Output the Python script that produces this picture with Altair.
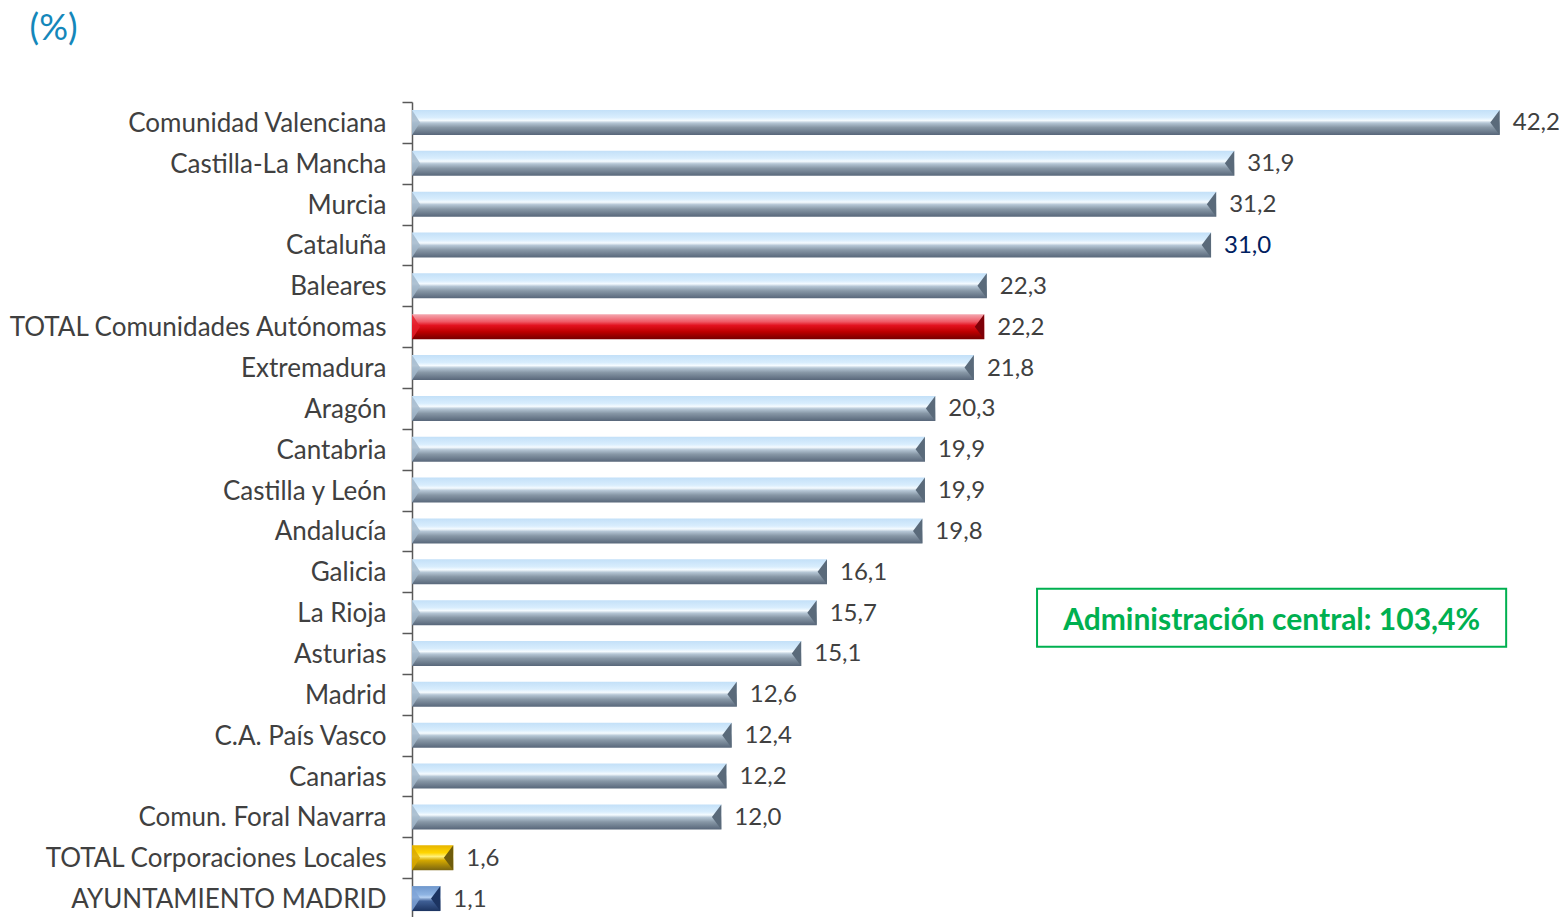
import altair as alt
import pandas as pd

regions = [
    "Comunidad Valenciana", "Castilla-La Mancha", "Murcia", "Cataluña", "Baleares",
    "TOTAL Comunidades Autónomas", "Extremadura", "Aragón", "Cantabria", "Castilla y León",
    "Andalucía", "Galicia", "La Rioja", "Asturias", "Madrid", "C.A. País Vasco",
    "Canarias", "Comun. Foral Navarra", "TOTAL Corporaciones Locales", "AYUNTAMIENTO MADRID",
]
values = [42.2, 31.9, 31.2, 31.0, 22.3, 22.2, 21.8, 20.3, 19.9, 19.9,
          19.8, 16.1, 15.7, 15.1, 12.6, 12.4, 12.2, 12.0, 1.6, 1.1]
groups = ["ccaa"] * 5 + ["total"] + ["ccaa"] * 12 + ["cl", "ayto"]
labels = [f"{v:.1f}".replace(".", ",") for v in values]

note_text = "Administración central: 103,4%"
note_row = "La Rioja"
note_x0, note_x1 = 24.25, 42.45

df = pd.DataFrame({"region": regions, "value": values, "group": groups, "label": labels})
df["zero"] = 0.0
note_df = pd.DataFrame({"region": [note_row], "x0": [note_x0], "x1": [note_x1],
                        "xm": [(note_x0 + note_x1) / 2], "text": [note_text]})

FONT = "Lato"
BAR_H = 25

def grad(stops):
    return alt.Gradient(
        gradient="linear", x1=0, x2=0, y1=0, y2=1,
        stops=[alt.GradientStop(offset=o, color=c) for o, c in stops],
    )

styles = {
    "ccaa": (grad([(0, "#c3e0f8"), (0.3, "#d8edfd"), (0.42, "#f5fbff"), (0.52, "#b5c6d5"),
                   (0.7, "#8797a6"), (1, "#58677a")]), "#a3b8cb", "#5a6a7a"),
    "total": (grad([(0, "#f4a9b1"), (0.3, "#ef5a66"), (0.45, "#e3121f"), (0.7, "#bd0000"),
                    (1, "#760000")]), "#e4202c", "#7e0008"),
    "cl": (grad([(0, "#e6b400"), (0.3, "#ffd500"), (0.45, "#fff07a"), (0.6, "#d5a900"),
                 (1, "#7a6510")]), "#d9a800", "#6f5c0c"),
    "ayto": (grad([(0, "#6f97cc"), (0.35, "#8fb4e3"), (0.45, "#b5d0f2"), (0.6, "#3f5f95"),
                   (1, "#1c3461")]), "#7fa3d6", "#1c3461"),
}

LEFT_BEVEL = "M 0 -1 L 0.65 0 L 0 1 Z"
RIGHT_BEVEL = "M 0 -1 L -0.75 0 L 0 1 Z"

y_enc = alt.Y(
    "region:N", sort=regions, title=None,
    scale=alt.Scale(paddingInner=0, paddingOuter=0),
    axis=alt.Axis(
        labelFont=FONT, labelFontSize=26, labelColor="#404040", labelPadding=16,
        tickSize=10, tickColor="#595959", domainColor="#595959", tickWidth=1.5,
        domainWidth=1.5, tickBand="extent", labelLimit=500, labelOffset=1,
    ),
)
x_scale = alt.Scale(domain=[0, 44.5], nice=False, zero=True)
X = lambda f: alt.X(f, scale=x_scale, axis=None)

base = alt.Chart(df)
layers = []
for g, (f, lc, rc) in styles.items():
    sub = base.transform_filter(alt.datum.group == g)
    layers.append(sub.mark_bar(fill=f, height=BAR_H).encode(x=X("value:Q"), y=y_enc))
    layers.append(sub.mark_point(shape=LEFT_BEVEL, size=BAR_H ** 2, filled=True, fill=lc,
                                 strokeWidth=0, opacity=0.85)
                  .encode(x=X("zero:Q"), y=y_enc))
    layers.append(sub.mark_point(shape=RIGHT_BEVEL, size=BAR_H ** 2, filled=True, fill=rc,
                                 strokeWidth=0, opacity=1)
                  .encode(x=X("value:Q"), y=y_enc))

text = base.mark_text(align="left", baseline="middle", dx=13, dy=1, font=FONT, fontSize=24).encode(
    x=X("value:Q"),
    y=y_enc,
    text="label:N",
    color=alt.condition(alt.datum.region == "Cataluña", alt.value("#002060"), alt.value("#404040")),
)

note_box = alt.Chart(note_df).mark_bar(
    height=58, fill="white", stroke="#00b050", strokeWidth=2, yOffset=5
).encode(x=X("x0:Q"), x2="x1:Q", y=y_enc)
note_txt = alt.Chart(note_df).mark_text(
    font=FONT, fontSize=30, fontWeight="bold", color="#00b050", dy=8
).encode(x=X("xm:Q"), y=y_enc, text="text:N")

chart = alt.layer(*layers, text, note_box, note_txt).properties(
    width=1147, height=817,
    autosize=alt.AutoSizeParams(type="none"),
    padding={"left": 404, "top": 94, "right": 0, "bottom": 0},
    title=alt.TitleParams("(%)", anchor="start", frame="bounds", font=FONT, fontSize=36,
                          fontWeight="normal", color="#1487ba", dx=22, offset=41),
).configure_view(stroke=None).configure_axis(grid=False)

chart.save("out.html", embed_options={"renderer": "svg", "actions": False})
